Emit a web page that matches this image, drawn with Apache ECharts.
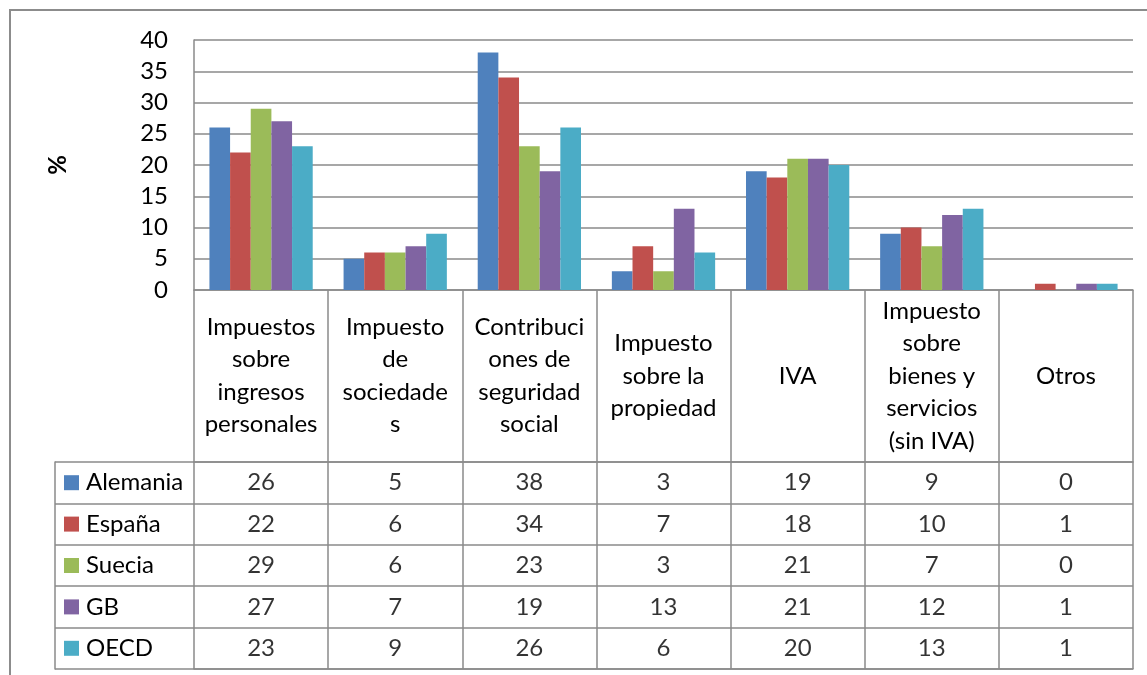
<!DOCTYPE html>
<html><head><meta charset="utf-8">
<script src="https://cdn.jsdelivr.net/npm/echarts@6/dist/echarts.min.js"></script>
<style>
html,body{margin:0;padding:0;background:#fff;overflow:hidden}
#frame{position:absolute;left:9px;top:9px;width:1400px;height:900px;border:2px solid #8c8c8c;box-sizing:border-box}
#c{position:absolute;left:0;top:0;width:1147px;height:675px}
</style></head>
<body><div id="frame"></div><div id="c"></div>
<script>
// ---- data ----
const categories = [
  'Impuestos\nsobre\ningresos\npersonales',
  'Impuesto\nde\nsociedade\ns',
  'Contribuci\nones de\nseguridad\nsocial',
  'Impuesto\nsobre la\npropiedad',
  'IVA',
  'Impuesto\nsobre\nbienes y\nservicios\n(sin IVA)',
  'Otros'
];
const seriesNames = ['Alemania', 'España', 'Suecia', 'GB', 'OECD'];
const alemania = [26, 5, 38, 3, 19, 9, 0];
const espana   = [22, 6, 34, 7, 18, 10, 1];
const suecia   = [29, 6, 23, 3, 21, 7, 0];
const gb       = [27, 7, 19, 13, 21, 12, 1];
const oecd     = [23, 9, 26, 6, 20, 13, 1];
const seriesValues = [alemania, espana, suecia, gb, oecd];

// ---- style ----
const colors = ['#4F81BD', '#C0504D', '#9BBB59', '#8064A2', '#4BACC6'];
const FONT = 'Lato';
const FS = 24;
const lineColor = '#8a8a8a';
const lineStyle = { color: lineColor, width: 1.5 };

const rich = { t: { fontSize: FS, fontFamily: FONT, color: '#000', padding: [0, 0, 0, 7] } };
colors.forEach((c, i) => { rich['k' + i] = { width: 15, height: 15, backgroundColor: c }; });

const cellData = [];
seriesValues.forEach((vals, s) => vals.forEach((v, c) => cellData.push([c, s, v])));

const chart = echarts.init(document.getElementById('c'), null, { renderer: 'canvas' });
chart.setOption({
  animation: false,
  backgroundColor: 'transparent',
  textStyle: { fontFamily: FONT },
  grid: [
    { left: 194, right: 14, top: 40, bottom: 385 },
    { left: 194, right: 14, top: 462, bottom: 6 }
  ],
  xAxis: [
    {
      gridIndex: 0, type: 'category', data: categories,
      axisLine: { show: true, lineStyle },
      axisTick: { show: true, length: 379, interval: 0, lineStyle },
      axisLabel: { interval: 0, margin: 86, verticalAlign: 'middle', fontSize: FS, lineHeight: 32.5, color: '#000', fontFamily: FONT }
    },
    {
      gridIndex: 1, type: 'category', data: categories, position: 'bottom',
      axisLine: { show: true, lineStyle }, axisTick: { show: false }, axisLabel: { show: false }
    },
    {
      gridIndex: 1, type: 'category', data: categories, position: 'top',
      axisLine: { show: true, lineStyle }, axisTick: { show: false }, axisLabel: { show: false }
    }
  ],
  yAxis: [
    {
      gridIndex: 0, type: 'value', min: 0, max: 40, interval: 5,
      axisLine: { show: true, lineStyle }, axisTick: { show: false },
      splitLine: { show: true, lineStyle },
      axisLabel: { fontSize: FS, color: '#000', margin: 26, fontFamily: FONT },
      name: '%', nameLocation: 'middle', nameRotate: 90, nameGap: 124,
      nameTextStyle: { fontSize: FS, fontWeight: 'bold', color: '#000', fontFamily: FONT }
    },
    {
      gridIndex: 1, type: 'category', data: seriesNames, inverse: true, position: 'left',
      axisLine: { show: false },
      axisTick: { show: true, length: 139, interval: 0, lineStyle },
      splitLine: { show: true, interval: 0, lineStyle },
      axisLabel: {
        interval: 0, align: 'left', margin: 130, rich,
        formatter: (name) => '{k' + seriesNames.indexOf(name) + '|}{t|' + name + '}'
      }
    },
    {
      gridIndex: 1, type: 'category', data: seriesNames, inverse: true, position: 'left', offset: 139,
      axisLine: { show: true, lineStyle }, axisTick: { show: false }, axisLabel: { show: false }
    }
  ],
  series: seriesNames.map((name, i) => ({
    name, type: 'bar', xAxisIndex: 0, yAxisIndex: 0,
    data: seriesValues[i],
    itemStyle: { color: colors[i] },
    barGap: '0%', barCategoryGap: '23%'
  })).concat([{
    type: 'scatter', xAxisIndex: 1, yAxisIndex: 1,
    data: cellData, symbolSize: 1,
    itemStyle: { color: 'transparent' },
    label: {
      show: true, position: 'inside', fontSize: FS, color: '#000', fontFamily: FONT,
      formatter: (p) => String(p.value[2])
    }
  }])
});
</script>
</body></html>
